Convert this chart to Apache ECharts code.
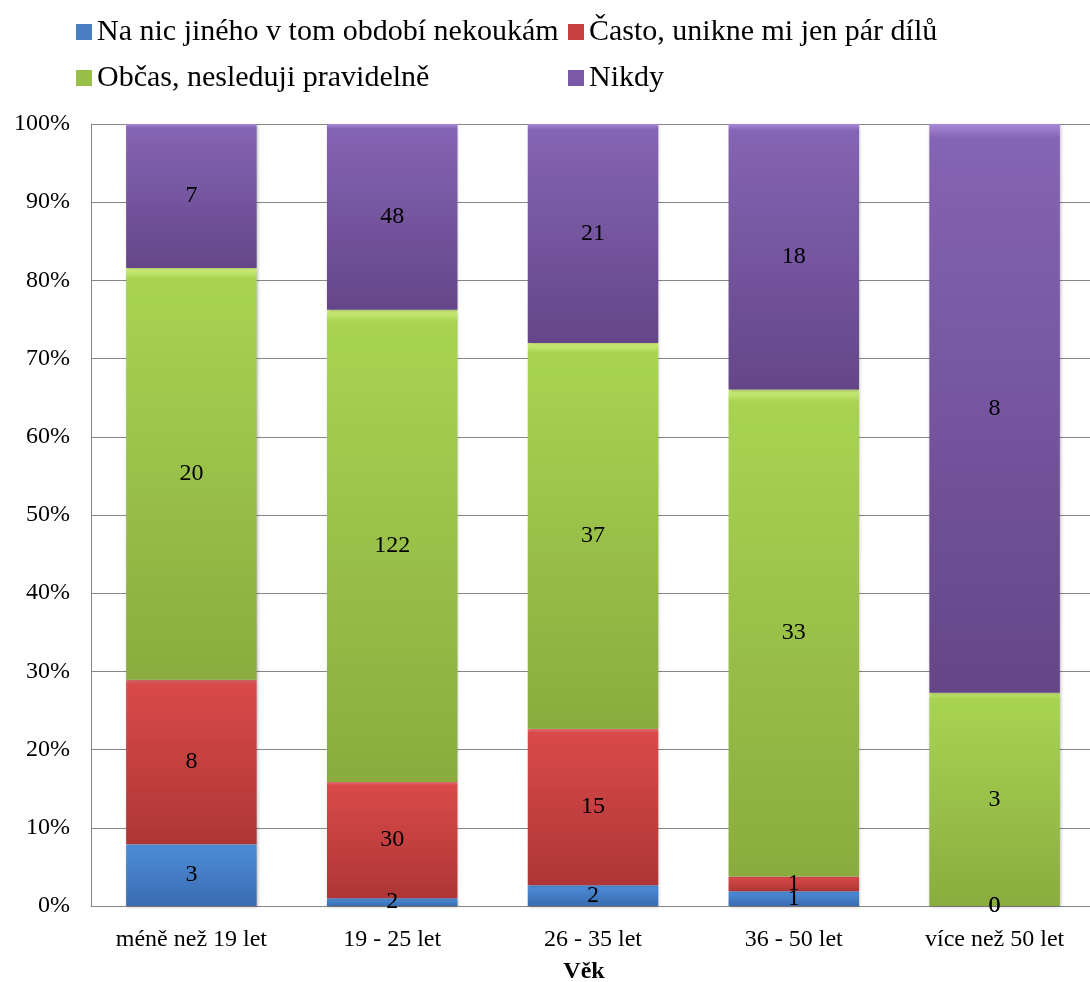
<!DOCTYPE html>
<html lang="cs">
<head>
<meta charset="utf-8">
<title>Věk</title>
<script src="https://cdn.jsdelivr.net/npm/echarts@6/dist/echarts.min.js"></script>
<style>
  html, body { margin: 0; padding: 0; background: #ffffff; }
  #chart { width: 1090px; height: 982px; }
</style>
</head>
<body>
<div id="chart"></div>
<script>
// Age groups on the x axis
const categories = ['méně než 19 let', '19 - 25 let', '26 - 35 let', '36 - 50 let', 'více než 50 let'];

// Answer options (series names, bottom to top in each column)
const seriesNames = [
  'Na nic jiného v tom období nekoukám',
  'Často, unikne mi jen pár dílů',
  'Občas, nesleduji pravidelně',
  'Nikdy'
];

// Respondent counts per age group
const countsNaNic = [3, 2, 2, 1, 0];
const countsCasto = [8, 30, 15, 1, 0];
const countsObcas = [20, 122, 37, 33, 3];
const countsNikdy = [7, 48, 21, 18, 8];

// Percent axis ticks
const yTickMin = 0;
const yTickMax = 100;
const yTickStep = 10;

const allCounts = [countsNaNic, countsCasto, countsObcas, countsNikdy];
const totals = categories.map((_, i) => allCounts.reduce((s, arr) => s + arr[i], 0));

const FONT = 'Liberation Serif';

// Bevel-like vertical shading: a thin bright rim on top, then light to dark
function shade(rim, top, bottom) {
  return new echarts.graphic.LinearGradient(0, 0, 0, 1, [
    { offset: 0, color: rim },
    { offset: 0.025, color: top },
    { offset: 1, color: bottom }
  ]);
}

const palettes = [
  { rim: '#7db4f2', top: '#4d8cd8', bottom: '#3a6cb0', legend: '#4a7fc4' },
  { rim: '#f27d7d', top: '#da4a4a', bottom: '#ae3636', legend: '#c84040' },
  { rim: '#d2f27f', top: '#a8d452', bottom: '#8aac3e', legend: '#98c048' },
  { rim: '#a988d8', top: '#8464b4', bottom: '#644688', legend: '#7a5aa8' }
];

const series = allCounts.map((counts, s) => ({
  name: seriesNames[s],
  type: 'bar',
  stack: 'podil',
  barWidth: '65%',
  data: counts.map((c, i) => ({ value: totals[i] ? c / totals[i] * 100 : 0, count: c })),
  itemStyle: {
    color: shade(palettes[s].rim, palettes[s].top, palettes[s].bottom),
    shadowColor: 'rgba(0,0,0,0.25)',
    shadowBlur: 3,
    shadowOffsetX: 1,
    shadowOffsetY: 1
  },
  label: {
    show: true,
    position: 'inside',
    color: '#000',
    fontFamily: FONT,
    fontSize: 24,
    formatter: p => String(p.data.count)
  },
  emphasis: { disabled: true }
}));

const legendFont = { color: '#000', fontFamily: FONT, fontSize: 30 };

function legendBlock(names, left) {
  return {
    data: names.map((n) => ({
      name: n,
      itemStyle: { color: palettes[seriesNames.indexOf(n)].legend },
      textStyle: legendFont
    })),
    orient: 'vertical',
    left: left,
    top: 12,
    icon: 'rect',
    itemWidth: 16,
    itemHeight: 16,
    itemGap: 16,
    textStyle: legendFont,
    selectedMode: false
  };
}

const chart = echarts.init(document.getElementById('chart'), null, { renderer: 'canvas' });
chart.setOption({
  animation: false,
  backgroundColor: '#ffffff',
  textStyle: { fontFamily: FONT },
  legend: [
    legendBlock([seriesNames[0], seriesNames[2]], 71),
    legendBlock([seriesNames[1], seriesNames[3]], 563)
  ],
  grid: {
    left: 91,
    right: -5,
    top: 124,
    bottom: 76,
    outerBoundsMode: 'none'
  },
  xAxis: {
    type: 'category',
    data: categories,
    name: 'Věk',
    nameLocation: 'middle',
    nameGap: 54,
    nameTextStyle: {
      color: '#000',
      fontFamily: FONT,
      fontSize: 24,
      fontWeight: 'bold',
      padding: [0, 18, 0, 0]
    },
    axisLine: { show: true, lineStyle: { color: '#868686', width: 1 } },
    axisTick: { show: false },
    axisLabel: { color: '#000', fontFamily: FONT, fontSize: 24, margin: 22 }
  },
  yAxis: {
    type: 'value',
    min: yTickMin,
    max: yTickMax,
    interval: yTickStep,
    axisLine: { show: true, lineStyle: { color: '#868686', width: 1 } },
    axisTick: { show: false },
    splitLine: { show: true, lineStyle: { color: '#868686', width: 1 } },
    axisLabel: {
      color: '#000',
      fontFamily: FONT,
      fontSize: 24,
      margin: 21,
      formatter: '{value}%'
    }
  },
  series: series
});
</script>
</body>
</html>
